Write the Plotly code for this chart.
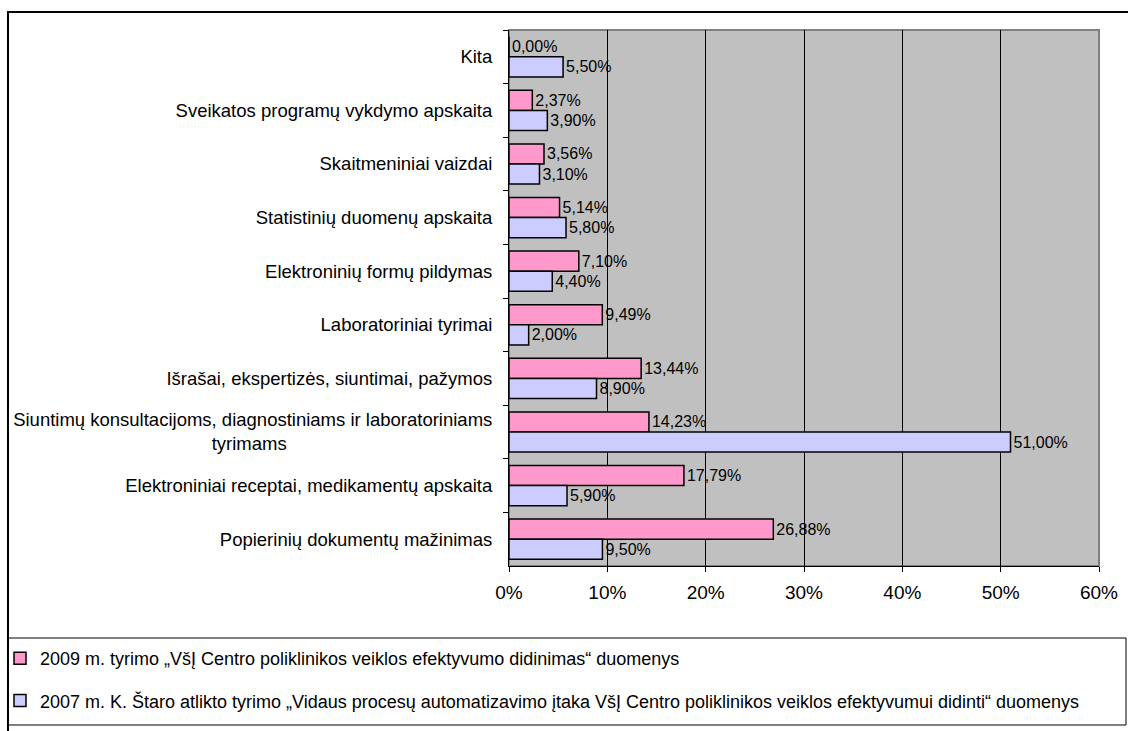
import plotly.graph_objects as go

categories = [
    "Kita",
    "Sveikatos programų vykdymo apskaita",
    "Skaitmeniniai vaizdai",
    "Statistinių duomenų apskaita",
    "Elektroninių formų pildymas",
    "Laboratoriniai tyrimai",
    "Išrašai, ekspertizės, siuntimai, pažymos",
    "Siuntimų konsultacijoms, diagnostiniams ir laboratoriniams<br>tyrimams" + "\u00a0" * 40,
    "Elektroniniai receptai, medikamentų apskaita",
    "Popierinių dokumentų mažinimas",
]
values_2009 = [0.00, 2.37, 3.56, 5.14, 7.10, 9.49, 13.44, 14.23, 17.79, 26.88]
values_2007 = [5.50, 3.90, 3.10, 5.80, 4.40, 2.00, 8.90, 51.00, 5.90, 9.50]

name_2009 = "2009 m. tyrimo „VšĮ Centro poliklinikos veiklos efektyvumo didinimas“ duomenys"
name_2007 = ("2007 m. K. Štaro atlikto tyrimo „Vidaus procesų automatizavimo įtaka "
             "VšĮ Centro poliklinikos veiklos efektyvumui didinti“ duomenys")

x_ticks = [0, 10, 20, 30, 40, 50, 60]
x_ticktext = [f"{v}%" for v in x_ticks]

FONT = "Liberation Sans, Arial, sans-serif"
W, H = 1128, 731

fig = go.Figure()
fig.add_trace(go.Bar(
    y=categories, x=values_2009, orientation="h", name=name_2009,
    marker=dict(color="#FF99CC", line=dict(color="black", width=1.5)),
    texttemplate="%{x:.2f}%", textposition="outside", cliponaxis=False,
    textfont=dict(size=16, color="black"), legendgroup="a",
))
fig.add_trace(go.Bar(
    y=categories, x=values_2007, orientation="h", name=name_2007,
    marker=dict(color="#CCCCFF", line=dict(color="black", width=1.5)),
    texttemplate="%{x:.2f}%", textposition="outside", cliponaxis=False,
    textfont=dict(size=16, color="black"), legendgroup="b",
))

# pixel -> paper coords, plot area x 509..1099, y 30..566
def px_x(p):
    return (p - 509) / 590

def px_y(p):
    return (566 - p) / 536

shapes = [
    # grey plot frame
    dict(type="rect", xref="paper", yref="paper", x0=0, x1=1, y0=0, y1=1,
         line=dict(color="#808080", width=2), layer="below"),
    # outer frame
    dict(type="rect", xref="paper", yref="paper", x0=px_x(8), x1=px_x(1140),
         y0=px_y(745), y1=px_y(12), line=dict(color="black", width=2)),
    # legend box
    dict(type="rect", xref="paper", yref="paper", x0=px_x(8), x1=px_x(1126),
         y0=px_y(725), y1=px_y(638), line=dict(color="black", width=1)),
]

fig.update_layout(
    width=W, height=H,
    margin=dict(l=509, r=29, t=30, b=165, autoexpand=False),
    paper_bgcolor="white", plot_bgcolor="#C0C0C0",
    font=dict(family=FONT, size=19, color="black"),
    separators=", ",
    barmode="group", bargap=0.25, bargroupgap=0,
    showlegend=True,
    legend=dict(
        xref="container", yref="container",
        x=0.0, y=1 - 640 / H, xanchor="left", yanchor="top",
        bgcolor="rgba(0,0,0,0)", font=dict(size=18, family=FONT),
        tracegroupgap=16, traceorder="grouped", itemwidth=30,
    ),
    shapes=shapes,
)
fig.update_xaxes(
    range=[0, 60], tickvals=x_ticks, ticktext=x_ticktext,
    showgrid=True, gridcolor="black", gridwidth=1,
    showline=True, linecolor="black", linewidth=1,
    ticks="outside", ticklen=5, tickcolor="black",
    zeroline=False, tickfont=dict(size=19), ticklabelstandoff=4,
    automargin=False,
)
fig.update_yaxes(
    autorange="reversed", type="category", tickson="boundaries",
    showline=True, linecolor="black", linewidth=1,
    ticks="outside", ticklen=5, tickcolor="black",
    showgrid=False, ticklabelstandoff=12, tickfont=dict(size=18.5),
    automargin=False,
)

fig.write_html("out.html", config={"displayModeBar": False},
               post_script="document.body.style.margin='0';")
